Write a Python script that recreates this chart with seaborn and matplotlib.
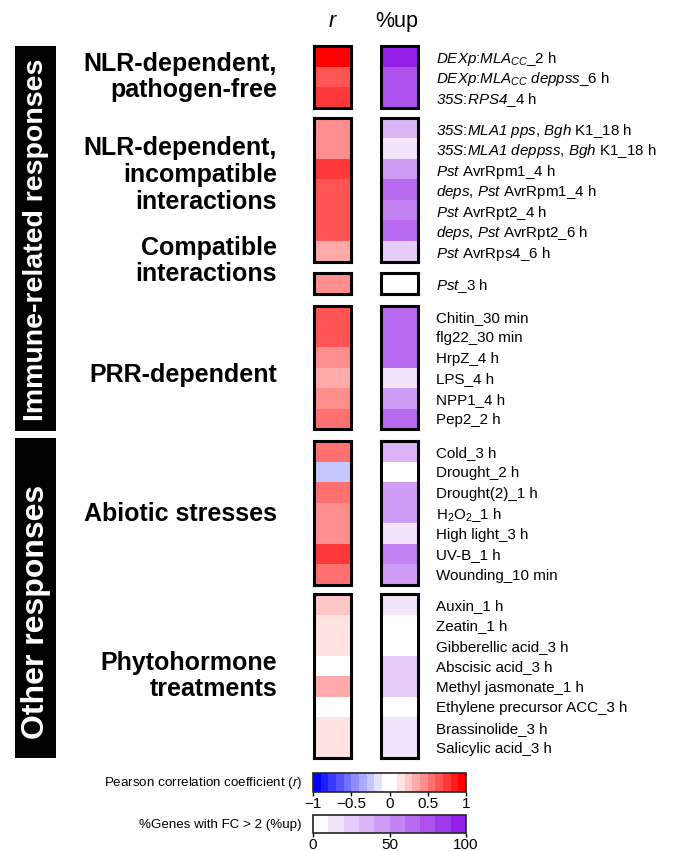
# Heatmap of transcriptome similarity (r) and % up-regulated genes per treatment
import numpy as np
import pandas as pd
import matplotlib.pyplot as plt
import seaborn as sns
from matplotlib.colors import ListedColormap
from matplotlib.patches import Rectangle

# ---- data ----
group_titles = ['NLR-dependent,\npathogen-free',
                'NLR-dependent,\nincompatible\ninteractions',
                'Compatible\ninteractions',
                'PRR-dependent',
                'Abiotic stresses',
                'Phytohormone\ntreatments']

# italic parts are in math mode (math "rm" is mapped to the italic face below)
nlr_free_labels = [r'$DEXp$:$MLA_{CC}$_2 h',
                   r'$DEXp$:$MLA_{CC}\ deppss$_6 h',
                   r'$35S$:$RPS4$_4 h']
nlr_free_r = [0.96, 0.64, 0.74]
nlr_free_up = [93, 73, 71]

nlr_inc_labels = [r'$35S$:$MLA1\ pps$, $Bgh$ K1_18 h',
                  r'$35S$:$MLA1\ deppss$, $Bgh$ K1_18 h',
                  r'$Pst$ AvrRpm1_4 h',
                  r'$deps$, $Pst$ AvrRpm1_4 h',
                  r'$Pst$ AvrRpt2_4 h',
                  r'$deps$, $Pst$ AvrRpt2_6 h',
                  r'$Pst$ AvrRps4_6 h']
nlr_inc_r = [0.45, 0.44, 0.75, 0.65, 0.66, 0.65, 0.35]
nlr_inc_up = [33, 15, 45, 66, 55, 66, 24]

compat_labels = [r'$Pst$_3 h']
compat_r = [0.45]
compat_up = [3]

prr_labels = ['Chitin_30 min', 'flg22_30 min', 'HrpZ_4 h',
              'LPS_4 h', 'NPP1_4 h', 'Pep2_2 h']
prr_r = [0.66, 0.65, 0.45, 0.36, 0.46, 0.56]
prr_up = [62, 61, 60, 13, 43, 64]

abiotic_labels = ['Cold_3 h', 'Drought_2 h', 'Drought(2)_1 h',
                  r'H$_\mathsf{2}$O$_\mathsf{2}$_1 h',
                  'High light_3 h', 'UV-B_1 h', 'Wounding_10 min']
abiotic_r = [0.56, -0.24, 0.57, 0.46, 0.45, 0.72, 0.55]
abiotic_up = [32, 2, 42, 43, 13, 55, 45]

hormone_labels = ['Auxin_1 h', 'Zeatin_1 h', 'Gibberellic acid_3 h',
                  'Abscisic acid_3 h', 'Methyl jasmonate_1 h',
                  'Ethylene precursor ACC_3 h', 'Brassinolide_3 h',
                  'Salicylic acid_3 h']
hormone_r = [0.25, 0.14, 0.15, 0.03, 0.36, 0.04, 0.15, 0.14]
hormone_up = [12, 4, 3, 22, 21, 2, 14, 12]

group_labels = [nlr_free_labels, nlr_inc_labels, compat_labels,
                prr_labels, abiotic_labels, hormone_labels]
group_r = [nlr_free_r, nlr_inc_r, compat_r, prr_r, abiotic_r, hormone_r]
group_up = [nlr_free_up, nlr_inc_up, compat_up, prr_up, abiotic_up, hormone_up]

r_ticks = [-1, -0.5, 0, 0.5, 1]
r_ticklabels = ['\u22121', '\u22120.5', '0', '0.5', '1']
up_ticks = [0, 50, 100]
up_ticklabels = ['0', '50', '100']

# ---- style ----
sns.set_style('white')
plt.rcParams['font.family'] = ['Liberation Sans', 'DejaVu Sans']
plt.rcParams['text.color'] = 'black'
plt.rcParams['xtick.color'] = 'black'
plt.rcParams['ytick.color'] = 'black'
plt.rcParams['mathtext.fontset'] = 'custom'
plt.rcParams['mathtext.rm'] = 'Liberation Sans:italic'
plt.rcParams['mathtext.it'] = 'Liberation Sans:italic'
plt.rcParams['mathtext.sf'] = 'Liberation Sans'
plt.rcParams['mathtext.bf'] = 'Liberation Sans:bold'

# stepped colour maps (20 steps for r, 10 steps for %up)
steps = np.arange(10) / 9
neg = [(1 - t, 1 - t, 1) for t in steps[::-1]]
pos = [(1, 1 - t, 1 - t) for t in steps]
r_cmap = ListedColormap(neg + pos)
purple = np.array([0.58, 0.125, 0.91])
up_cmap = ListedColormap([tuple(1 - t * (1 - purple)) for t in steps])

W, H = 683, 851
fig = plt.figure(figsize=(W / 100, H / 100), dpi=100)


def box(x0, y0, x1, y1):
    # pixel box -> figure fraction rect
    return [x0 / W, 1 - y1 / H, (x1 - x0) / W, (y1 - y0) / H]


row_h = 20.5
group_tops = [46, 118, 273, 306, 441, 594]
title_y = [77, 175, 261, 375, 514, 676]

cax_r = fig.add_axes(box(313, 773, 466, 792))
cax_u = fig.add_axes(box(313, 815, 466, 833))

for i in range(len(group_r)):
    n = len(group_r[i])
    y0 = group_tops[i]
    y1 = y0 + n * row_h
    df = pd.DataFrame({'r': group_r[i], 'up': group_up[i]})
    ax_r = fig.add_axes(box(314, y0, 351, y1))
    ax_u = fig.add_axes(box(381, y0, 418, y1))
    first = i == 0
    sns.heatmap(df[['r']], ax=ax_r, cmap=r_cmap, vmin=-1, vmax=1,
                cbar=first, cbar_ax=cax_r if first else None,
                cbar_kws={'orientation': 'horizontal'},
                xticklabels=False, yticklabels=False)
    sns.heatmap(df[['up']], ax=ax_u, cmap=up_cmap, vmin=0, vmax=100,
                cbar=first, cbar_ax=cax_u if first else None,
                cbar_kws={'orientation': 'horizontal'},
                xticklabels=False, yticklabels=group_labels[i])
    ax_u.yaxis.tick_right()
    ax_u.set_yticklabels(group_labels[i], rotation=0, fontsize=10.9)
    ax_u.tick_params(axis='y', length=0, pad=13)
    for ax in (ax_r, ax_u):
        for sp in ax.spines.values():
            sp.set_visible(True)
            sp.set_linewidth(2.2)
            sp.set_color('black')
    if first:
        cb = ax_r.collections[0].colorbar
        cb.set_ticks(r_ticks, labels=r_ticklabels)
        cb2 = ax_u.collections[0].colorbar
        cb2.set_ticks(up_ticks, labels=up_ticklabels)
        for c in (cb, cb2):
            c.ax.tick_params(labelsize=11, length=3, width=1, pad=0.5)
            c.outline.set_linewidth(1.2)
    # group title
    fig.text(277 / W, 1 - title_y[i] / H, group_titles[i], ha='right', va='center',
             fontsize=18, fontweight='bold', linespacing=1.15, multialignment='right')

# column headers
fig.text(332.5 / W, 1 - 27 / H, 'r', fontstyle='italic', fontsize=15.5,
         ha='center', va='baseline')
fig.text(397 / W, 1 - 27 / H, '%up', fontsize=15.5, ha='center', va='baseline')

# colorbar captions
fig.text(302 / W, 1 - 783 / H, r'Pearson correlation coefficient ($r$)',
         ha='right', va='center', fontsize=9.6)
fig.text(302 / W, 1 - 825 / H, '%Genes with FC > 2 (%up)',
         ha='right', va='center', fontsize=9.6)

# black side bars
fig.add_artist(Rectangle((15 / W, 1 - 431 / H), 41 / W, 385 / H,
                         transform=fig.transFigure, facecolor='black', edgecolor='none'))
fig.add_artist(Rectangle((15 / W, 1 - 758 / H), 41 / W, 320 / H,
                         transform=fig.transFigure, facecolor='black', edgecolor='none'))
fig.text(36 / W, 1 - 240 / H, 'Immune-related responses', rotation=90, color='white',
         fontsize=20.5, fontweight='bold', ha='center', va='center')
fig.text(36 / W, 1 - 612 / H, 'Other responses', rotation=90, color='white',
         fontsize=23, fontweight='bold', ha='center', va='center')

fig.savefig('out.png', dpi=100)
